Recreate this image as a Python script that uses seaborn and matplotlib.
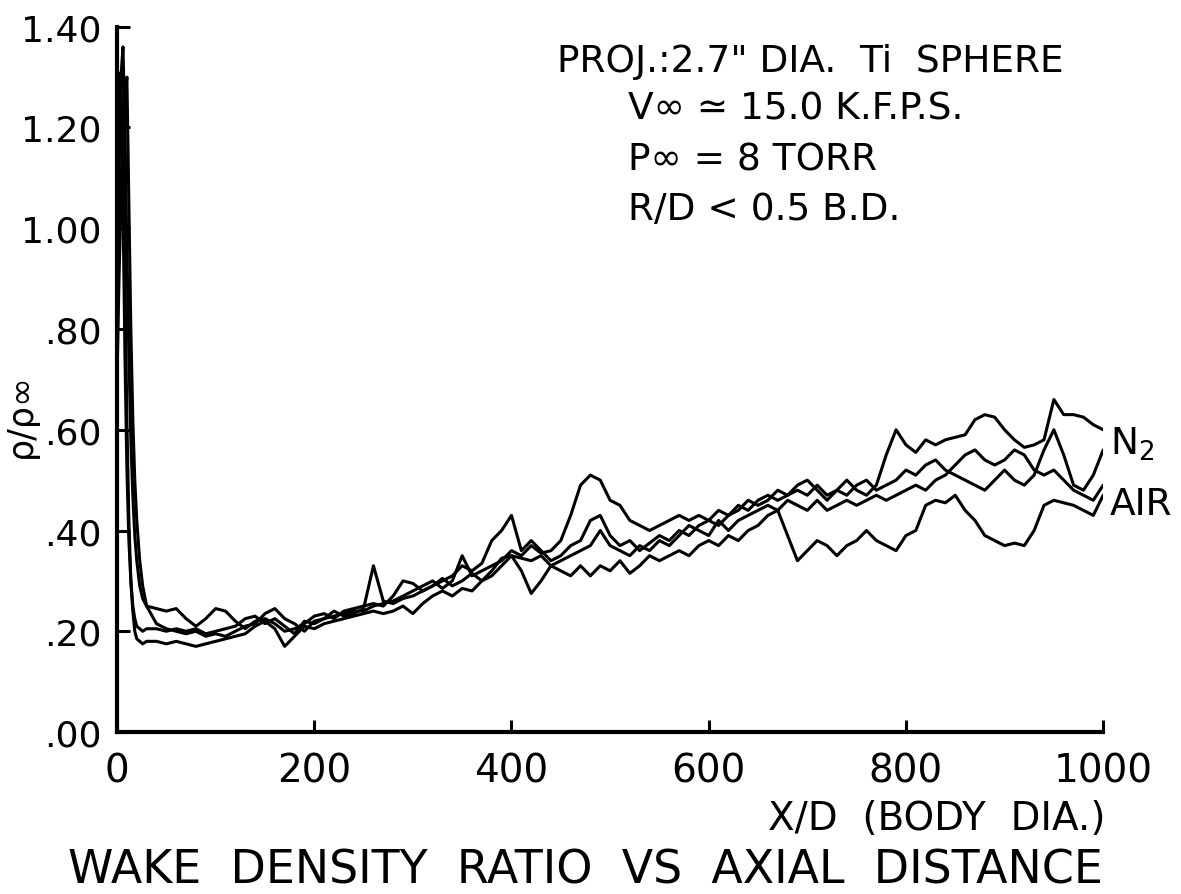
import matplotlib
matplotlib.use("Agg")
import matplotlib.pyplot as plt
import seaborn as sns
import pandas as pd

# sample positions along the wake, X/D
x_pos = [0, 2, 4, 6, 8, 10, 12, 14, 16, 18, 20, 23, 26, 30,
         40, 50, 60, 70, 80, 90, 100, 110, 120, 130, 140, 150, 160, 170, 180, 190,
         200, 210, 220, 230, 240, 250, 260, 270, 280, 290, 300, 310, 320, 330, 340,
         350, 360, 370, 380, 390, 400, 410, 420, 430, 440, 450, 460, 470, 480, 490,
         500, 510, 520, 530, 540, 550, 560, 570, 580, 590, 600, 610, 620, 630, 640,
         650, 660, 670, 680, 690, 700, 710, 720, 730, 740, 750, 760, 770, 780, 790,
         800, 810, 820, 830, 840, 850, 860, 870, 880, 890, 900, 910, 920, 930, 940,
         950, 960, 970, 980, 990, 1000]

# rho / rho_inf, four shots
run_a = [0.85, 1.10, 1.30, 1.36, 1.20, 0.95, 0.75, 0.58, 0.47, 0.39, 0.34, 0.29, 0.265, 0.25,
         0.245, 0.24, 0.245, 0.225, 0.21, 0.225, 0.245, 0.24, 0.22, 0.205, 0.22, 0.225, 0.215, 0.20, 0.205, 0.215,
         0.23, 0.235, 0.225, 0.24, 0.245, 0.25, 0.255, 0.25, 0.27, 0.30, 0.295, 0.28, 0.29, 0.30, 0.31,
         0.33, 0.32, 0.335, 0.38, 0.40, 0.43, 0.36, 0.38, 0.36, 0.34, 0.35, 0.37, 0.38, 0.42, 0.43,
         0.39, 0.37, 0.38, 0.36, 0.375, 0.39, 0.38, 0.40, 0.39, 0.41, 0.42, 0.41, 0.43, 0.45, 0.44,
         0.46, 0.47, 0.46, 0.47, 0.48, 0.47, 0.49, 0.47, 0.48, 0.50, 0.48, 0.47, 0.49, 0.55, 0.60,
         0.57, 0.555, 0.58, 0.57, 0.58, 0.585, 0.59, 0.62, 0.63, 0.625, 0.60, 0.58, 0.565, 0.57, 0.58,
         0.66, 0.63, 0.63, 0.625, 0.61, 0.60]
run_b = [0.95, 1.28, 1.31, 1.05, 0.75, 0.52, 0.38, 0.30, 0.25, 0.225, 0.21, 0.205, 0.20, 0.205,
         0.205, 0.20, 0.205, 0.20, 0.205, 0.195, 0.20, 0.205, 0.21, 0.225, 0.23, 0.215, 0.225, 0.21, 0.195, 0.22,
         0.215, 0.225, 0.23, 0.235, 0.24, 0.24, 0.25, 0.255, 0.26, 0.27, 0.28, 0.29, 0.30, 0.285, 0.30,
         0.35, 0.31, 0.32, 0.33, 0.34, 0.36, 0.35, 0.37, 0.355, 0.36, 0.38, 0.43, 0.49, 0.51, 0.50,
         0.46, 0.45, 0.42, 0.41, 0.40, 0.41, 0.42, 0.43, 0.42, 0.43, 0.42, 0.44, 0.43, 0.44, 0.46,
         0.45, 0.46, 0.48, 0.47, 0.49, 0.50, 0.48, 0.46, 0.48, 0.47, 0.49, 0.50, 0.48, 0.49, 0.50,
         0.52, 0.51, 0.53, 0.54, 0.52, 0.51, 0.50, 0.49, 0.48, 0.50, 0.52, 0.50, 0.49, 0.51, 0.56,
         0.60, 0.55, 0.49, 0.48, 0.51, 0.56]
run_c = [0.70, 0.90, 1.05, 1.18, 1.26, 1.30, 1.05, 0.80, 0.62, 0.50, 0.42, 0.34, 0.29, 0.25,
         0.215, 0.205, 0.20, 0.195, 0.20, 0.19, 0.195, 0.19, 0.20, 0.21, 0.215, 0.235, 0.245, 0.225, 0.215, 0.20,
         0.22, 0.225, 0.24, 0.23, 0.235, 0.245, 0.33, 0.26, 0.255, 0.265, 0.27, 0.28, 0.29, 0.305, 0.29,
         0.30, 0.315, 0.30, 0.32, 0.345, 0.35, 0.345, 0.34, 0.35, 0.33, 0.34, 0.35, 0.36, 0.37, 0.40,
         0.37, 0.36, 0.35, 0.37, 0.36, 0.38, 0.37, 0.39, 0.41, 0.40, 0.39, 0.42, 0.40, 0.42, 0.43,
         0.44, 0.45, 0.44, 0.46, 0.45, 0.44, 0.46, 0.44, 0.45, 0.46, 0.45, 0.46, 0.47, 0.46, 0.47,
         0.48, 0.49, 0.48, 0.50, 0.51, 0.53, 0.55, 0.56, 0.54, 0.53, 0.54, 0.56, 0.55, 0.52, 0.51,
         0.52, 0.50, 0.48, 0.47, 0.46, 0.49]
run_d = [0.80, 1.00, 1.10, 1.15, 0.90, 0.62, 0.42, 0.30, 0.24, 0.20, 0.185, 0.18, 0.175, 0.18,
         0.18, 0.175, 0.18, 0.175, 0.17, 0.175, 0.18, 0.185, 0.19, 0.195, 0.21, 0.22, 0.205, 0.17, 0.19, 0.21,
         0.205, 0.215, 0.22, 0.225, 0.23, 0.235, 0.24, 0.235, 0.24, 0.25, 0.235, 0.255, 0.27, 0.28, 0.27,
         0.285, 0.28, 0.30, 0.31, 0.33, 0.35, 0.32, 0.275, 0.30, 0.33, 0.32, 0.31, 0.33, 0.31, 0.33,
         0.32, 0.34, 0.315, 0.33, 0.35, 0.34, 0.35, 0.36, 0.35, 0.37, 0.38, 0.37, 0.39, 0.38, 0.40,
         0.41, 0.43, 0.44, 0.39, 0.34, 0.36, 0.38, 0.37, 0.35, 0.37, 0.38, 0.40, 0.38, 0.37, 0.36,
         0.39, 0.40, 0.45, 0.46, 0.455, 0.47, 0.44, 0.42, 0.39, 0.38, 0.37, 0.375, 0.37, 0.40, 0.45,
         0.46, 0.455, 0.45, 0.44, 0.43, 0.47]

y_ticks = [0.0, 0.2, 0.4, 0.6, 0.8, 1.0, 1.2, 1.4]
y_tick_labels = [".00", ".20", ".40", ".60", ".80", "1.00", "1.20", "1.40"]
x_ticks = [0, 200, 400, 600, 800, 1000]

frames = []
for name, vals in [("a", run_a), ("b", run_b), ("c", run_c), ("d", run_d)]:
    frames.append(pd.DataFrame({"x": x_pos, "ratio": vals, "run": name}))
df = pd.concat(frames, ignore_index=True)

sns.set_style("ticks")
plt.rcParams["font.family"] = ["DejaVu Sans"]
plt.rcParams["text.color"] = "black"
plt.rcParams["axes.labelcolor"] = "black"
plt.rcParams["xtick.color"] = "black"
plt.rcParams["ytick.color"] = "black"

fig = plt.figure(figsize=(11.81, 8.95), dpi=100)
ax = fig.add_axes([0.0991, 0.181, 0.835, 0.788])

sns.lineplot(data=df, x="x", y="ratio", units="run", estimator=None, sort=False,
             color="black", lw=2.2, ax=ax, legend=False)

ax.set_xlim(0, 1000)
ax.set_ylim(0, 1.40)
ax.set_xticks(x_ticks)
ax.set_xticklabels([str(t) for t in x_ticks])
ax.set_yticks(y_ticks)
ax.set_yticklabels(y_tick_labels)
ax.set_xlabel("")
ax.set_ylabel("")
for s in ["top", "right"]:
    ax.spines[s].set_visible(False)
for s in ["left", "bottom"]:
    ax.spines[s].set_linewidth(3)
    ax.spines[s].set_color("black")
ax.tick_params(axis="x", direction="in", length=9, width=2.2, pad=14, labelsize=28,
               colors="black", labelcolor="black")
ax.tick_params(axis="y", direction="in", length=9, width=2.2, pad=11, labelsize=26,
               colors="black", labelcolor="black")

fig.text(0.018, 0.536, "\u03c1/\u03c1\u221e", rotation=90, fontsize=25, ha="center", va="center",
         color="black")
fig.text(0.936, 0.073, "X/D  (BODY  DIA.)", fontsize=28, ha="right", va="baseline", color="black")
fig.text(0.496, 0.013, "WAKE  DENSITY  RATIO  VS  AXIAL  DISTANCE", fontsize=33,
         ha="center", va="baseline", color="black")

fig.text(0.472, 0.9195, "PROJ.:2.7\" DIA.  Ti  SPHERE", fontsize=27, va="baseline", color="black")
fig.text(0.532, 0.866, "V\u221e \u2243 15.0 K.F.P.S.", fontsize=27, va="baseline", color="black")
fig.text(0.532, 0.810, "P\u221e = 8 TORR", fontsize=27, va="baseline", color="black")
fig.text(0.532, 0.754, "R/D < 0.5 B.D.", fontsize=27, va="baseline", color="black")

fig.text(0.940, 0.4916, "N$_2$", fontsize=27, va="baseline", color="black")
fig.text(0.940, 0.4246, "AIR", fontsize=27, va="baseline", color="black")

fig.savefig("out.png", dpi=100)
